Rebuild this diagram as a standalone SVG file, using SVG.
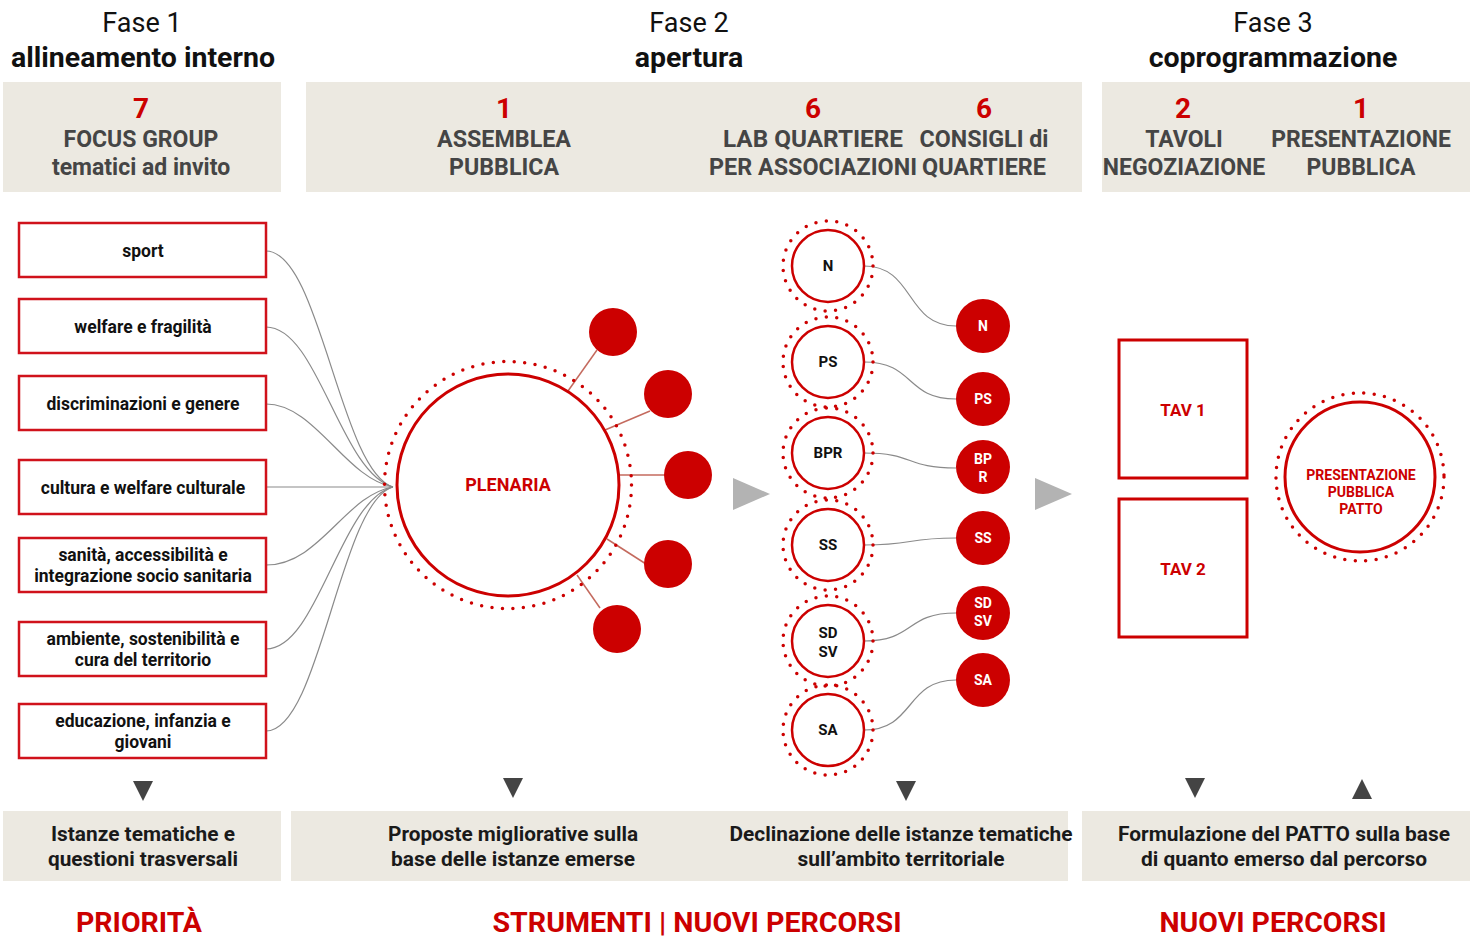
<svg xmlns="http://www.w3.org/2000/svg" width="1471" height="939" viewBox="0 0 1471 939">
  <style>
    text { font-family: Roboto, "Liberation Sans", sans-serif; font-weight: 700; text-anchor: middle; }
    .phase { font-size: 27px; font-weight: 400; fill: #111; }
    .phaseb { font-size: 28.5px; fill: #111; }
    .band { fill: #ece9e1; }
    .num { font-size: 28px; fill: #cc0000; }
    .hlab { font-size: 23px; fill: #454545; }
    .theme { fill: #fff; stroke: #d0121b; stroke-width: 2.5; }
    .tlab { font-size: 17.5px; fill: #111; }
    .link { fill: none; stroke: #8a8a8a; stroke-width: 1.2; }
    .spoke { stroke: #c46a5e; stroke-width: 1.5; }
    .ring { fill: #fff; stroke: #cc0000; stroke-width: 3; }
    .ring2 { fill: #fff; stroke: #cc0000; stroke-width: 2.5; }
    .dots { fill: none; stroke: #cc0000; stroke-width: 3.5; stroke-linecap: round; }
    .dot { fill: #cc0000; }
    .wlab { font-size: 14px; fill: #fff; }
    .rlab { fill: #cc0000; }
    .klab { font-size: 15px; fill: #111; }
    .flow { fill: #b3b3b3; }
    .tri { fill: #444; }
    .blab { font-size: 21px; fill: #1a1a1a; }
    .out { font-size: 28px; fill: #cc0000; }
  </style>

  <!-- phase titles -->
  <g id="titles">
    <text class="phase" x="142" y="32">Fase 1</text>
    <text class="phaseb" x="143" y="67">allineamento interno</text>
    <text class="phase" x="689" y="32">Fase 2</text>
    <text class="phaseb" x="689" y="67">apertura</text>
    <text class="phase" x="1273" y="32">Fase 3</text>
    <text class="phaseb" x="1273" y="67">coprogrammazione</text>
  </g>

  <!-- header bands -->
  <g id="header-1">
    <rect class="band" x="3" y="82" width="278" height="110"/>
    <text class="num" x="141" y="118">7</text>
    <text class="hlab" x="141" y="147">FOCUS GROUP</text>
    <text class="hlab" x="141" y="175">tematici ad invito</text>
  </g>
  <g id="header-2">
    <rect class="band" x="306" y="82" width="776" height="110"/>
    <text class="num" x="504" y="118">1</text>
    <text class="hlab" x="504" y="147" textLength="134" lengthAdjust="spacingAndGlyphs">ASSEMBLEA</text>
    <text class="hlab" x="504" y="175" textLength="110" lengthAdjust="spacingAndGlyphs">PUBBLICA</text>
    <text class="num" x="813" y="118">6</text>
    <text class="hlab" x="813" y="147" textLength="180" lengthAdjust="spacingAndGlyphs">LAB  QUARTIERE</text>
    <text class="hlab" x="813" y="175" textLength="208" lengthAdjust="spacingAndGlyphs">PER ASSOCIAZIONI</text>
    <text class="num" x="984" y="118">6</text>
    <text class="hlab" x="984" y="147" textLength="129" lengthAdjust="spacingAndGlyphs">CONSIGLI di</text>
    <text class="hlab" x="984" y="175" textLength="124" lengthAdjust="spacingAndGlyphs">QUARTIERE</text>
  </g>
  <g id="header-3">
    <rect class="band" x="1102" y="82" width="368" height="110"/>
    <text class="num" x="1183" y="118">2</text>
    <text class="hlab" x="1184" y="147">TAVOLI</text>
    <text class="hlab" x="1184" y="175">NEGOZIAZIONE</text>
    <text class="num" x="1361" y="118">1</text>
    <text class="hlab" x="1361" y="147">PRESENTAZIONE</text>
    <text class="hlab" x="1361" y="175">PUBBLICA</text>
  </g>

  <!-- connectors -->
  <g id="connectors">
    <path class="link" d="M266,251 C320,251 340,470 393,487"/>
    <path class="link" d="M266,327 C318,327 340,472 393,487"/>
    <path class="link" d="M266,404 C315,404 345,478 393,487"/>
    <path class="link" d="M266,487 L393,487"/>
    <path class="link" d="M266,565 C320,565 345,495 393,487"/>
    <path class="link" d="M266,649 C318,649 340,500 393,487"/>
    <path class="link" d="M266,731 C320,731 340,502 393,487"/>

    <line class="spoke" x1="568" y1="391" x2="597" y2="350"/>
    <line class="spoke" x1="605" y1="430" x2="650" y2="411"/>
    <line class="spoke" x1="619" y1="475" x2="665" y2="475"/>
    <line class="spoke" x1="607" y1="539" x2="646" y2="564"/>
    <line class="spoke" x1="577" y1="575" x2="600" y2="608"/>

    <path class="link" d="M864,266 C915,266 905,326 956,326"/>
    <path class="link" d="M864,362 C915,362 905,399 956,399"/>
    <path class="link" d="M864,453 C915,453 905,468 956,468"/>
    <path class="link" d="M864,545 C915,545 905,538 956,538"/>
    <path class="link" d="M864,641 C915,641 905,613 956,613"/>
    <path class="link" d="M864,730 C915,730 905,680 956,680"/>

    <polygon class="flow" points="733,478 770,494 733,510"/>
    <polygon class="flow" points="1035,478 1072,494 1035,510"/>

    <polygon class="tri" points="133,781 153,781 143,801"/>
    <polygon class="tri" points="503,778 523,778 513,798"/>
    <polygon class="tri" points="896,781 916,781 906,801"/>
    <polygon class="tri" points="1185,778 1205,778 1195,798"/>
    <polygon class="tri" points="1352,799 1372,799 1362,779"/>
  </g>

  <!-- focus group themes -->
  <g id="theme-sport">
    <rect class="theme" x="19" y="223" width="247" height="54"/>
    <text class="tlab" x="143" y="257">sport</text>
  </g>
  <g id="theme-welfare">
    <rect class="theme" x="19" y="299" width="247" height="54"/>
    <text class="tlab" x="143" y="333">welfare e fragilità</text>
  </g>
  <g id="theme-discriminazioni">
    <rect class="theme" x="19" y="376" width="247" height="54"/>
    <text class="tlab" x="143" y="410">discriminazioni e genere</text>
  </g>
  <g id="theme-cultura">
    <rect class="theme" x="19" y="460" width="247" height="54"/>
    <text class="tlab" x="143" y="494">cultura e welfare culturale</text>
  </g>
  <g id="theme-sanita">
    <rect class="theme" x="19" y="538" width="247" height="54"/>
    <text class="tlab" x="143" y="561">sanità, accessibilità e</text>
    <text class="tlab" x="143" y="582">integrazione socio sanitaria</text>
  </g>
  <g id="theme-ambiente">
    <rect class="theme" x="19" y="622" width="247" height="54"/>
    <text class="tlab" x="143" y="645">ambiente, sostenibilità e</text>
    <text class="tlab" x="143" y="666">cura del territorio</text>
  </g>
  <g id="theme-educazione">
    <rect class="theme" x="19" y="704" width="247" height="54"/>
    <text class="tlab" x="143" y="727">educazione, infanzia e</text>
    <text class="tlab" x="143" y="748">giovani</text>
  </g>

  <!-- plenary assembly -->
  <g id="plenaria">
    <circle class="dots" cx="508" cy="485" r="123.5" stroke-dasharray="0 10.5"/>
    <circle class="ring" cx="508" cy="485" r="111"/>
    <text class="rlab" x="508" y="491" font-size="18">PLENARIA</text>
  </g>
  <g id="groups">
    <circle class="dot" cx="613" cy="332" r="24"/>
    <circle class="dot" cx="668" cy="394" r="24"/>
    <circle class="dot" cx="688" cy="475" r="24"/>
    <circle class="dot" cx="668" cy="564" r="24"/>
    <circle class="dot" cx="617" cy="629" r="24"/>
  </g>

  <!-- neighbourhood labs -->
  <g id="lab-n">
    <circle class="dots" cx="828" cy="266" r="45" stroke-dasharray="0 10.5"/>
    <circle class="ring2" cx="828" cy="266" r="36"/>
    <text class="klab" x="828" y="271">N</text>
  </g>
  <g id="lab-ps">
    <circle class="dots" cx="828" cy="362" r="45" stroke-dasharray="0 10.5"/>
    <circle class="ring2" cx="828" cy="362" r="36"/>
    <text class="klab" x="828" y="367">PS</text>
  </g>
  <g id="lab-bpr">
    <circle class="dots" cx="828" cy="453" r="45" stroke-dasharray="0 10.5"/>
    <circle class="ring2" cx="828" cy="453" r="36"/>
    <text class="klab" x="828" y="458">BPR</text>
  </g>
  <g id="lab-ss">
    <circle class="dots" cx="828" cy="545" r="45" stroke-dasharray="0 10.5"/>
    <circle class="ring2" cx="828" cy="545" r="36"/>
    <text class="klab" x="828" y="550">SS</text>
  </g>
  <g id="lab-sdsv">
    <circle class="dots" cx="828" cy="641" r="45" stroke-dasharray="0 10.5"/>
    <circle class="ring2" cx="828" cy="641" r="36"/>
    <text class="klab" x="828" y="638">SD</text>
    <text class="klab" x="828" y="657">SV</text>
  </g>
  <g id="lab-sa">
    <circle class="dots" cx="828" cy="730" r="45" stroke-dasharray="0 10.5"/>
    <circle class="ring2" cx="828" cy="730" r="36"/>
    <text class="klab" x="828" y="735">SA</text>
  </g>

  <!-- neighbourhood councils -->
  <g id="council-n">
    <circle class="dot" cx="983" cy="326" r="27"/>
    <text class="wlab" x="983" y="331">N</text>
  </g>
  <g id="council-ps">
    <circle class="dot" cx="983" cy="399" r="27"/>
    <text class="wlab" x="983" y="404">PS</text>
  </g>
  <g id="council-bpr">
    <circle class="dot" cx="983" cy="467" r="27"/>
    <text class="wlab" x="983" y="464">BP</text>
    <text class="wlab" x="983" y="482">R</text>
  </g>
  <g id="council-ss">
    <circle class="dot" cx="983" cy="538" r="27"/>
    <text class="wlab" x="983" y="543">SS</text>
  </g>
  <g id="council-sdsv">
    <circle class="dot" cx="983" cy="613" r="27"/>
    <text class="wlab" x="983" y="608">SD</text>
    <text class="wlab" x="983" y="626">SV</text>
  </g>
  <g id="council-sa">
    <circle class="dot" cx="983" cy="680" r="27"/>
    <text class="wlab" x="983" y="685">SA</text>
  </g>

  <!-- negotiation tables -->
  <g id="tav-1">
    <rect class="ring" x="1119" y="340" width="128" height="138"/>
    <text class="rlab" x="1183" y="416" font-size="17">TAV 1</text>
  </g>
  <g id="tav-2">
    <rect class="ring" x="1119" y="499" width="128" height="138"/>
    <text class="rlab" x="1183" y="575" font-size="17">TAV 2</text>
  </g>
  <g id="presentazione">
    <circle class="dots" cx="1360" cy="477" r="84" stroke-dasharray="0 10.5"/>
    <circle class="ring" cx="1360" cy="477" r="75"/>
    <text class="rlab" x="1361" y="480" font-size="14">PRESENTAZIONE</text>
    <text class="rlab" x="1361" y="497" font-size="14">PUBBLICA</text>
    <text class="rlab" x="1361" y="514" font-size="14">PATTO</text>
  </g>

  <!-- outcome bands -->
  <g id="outcome-1">
    <rect class="band" x="3" y="811" width="278" height="70"/>
    <text class="blab" x="143" y="841" textLength="184" lengthAdjust="spacingAndGlyphs">Istanze tematiche e</text>
    <text class="blab" x="143" y="866" textLength="190" lengthAdjust="spacingAndGlyphs">questioni trasversali</text>
  </g>
  <g id="outcome-2">
    <rect class="band" x="291" y="811" width="777" height="70"/>
    <text class="blab" x="513" y="841" textLength="250" lengthAdjust="spacingAndGlyphs">Proposte migliorative sulla</text>
    <text class="blab" x="513" y="866" textLength="244" lengthAdjust="spacingAndGlyphs">base delle istanze emerse</text>
    <text class="blab" x="901" y="841" textLength="343" lengthAdjust="spacingAndGlyphs">Declinazione delle istanze tematiche</text>
    <text class="blab" x="901" y="866" textLength="207" lengthAdjust="spacingAndGlyphs">sull’ambito territoriale</text>
  </g>
  <g id="outcome-3">
    <rect class="band" x="1082" y="811" width="388" height="70"/>
    <text class="blab" x="1284" y="841" textLength="332" lengthAdjust="spacingAndGlyphs">Formulazione del PATTO sulla base</text>
    <text class="blab" x="1284" y="866" textLength="286" lengthAdjust="spacingAndGlyphs">di quanto emerso dal percorso</text>
  </g>

  <!-- results -->
  <g id="results">
    <text class="out" x="139" y="932" textLength="126" lengthAdjust="spacingAndGlyphs">PRIORITÀ</text>
    <text class="out" x="697" y="932" textLength="409" lengthAdjust="spacingAndGlyphs">STRUMENTI | NUOVI PERCORSI</text>
    <text class="out" x="1273" y="932" textLength="227" lengthAdjust="spacingAndGlyphs">NUOVI PERCORSI</text>
  </g>
</svg>
